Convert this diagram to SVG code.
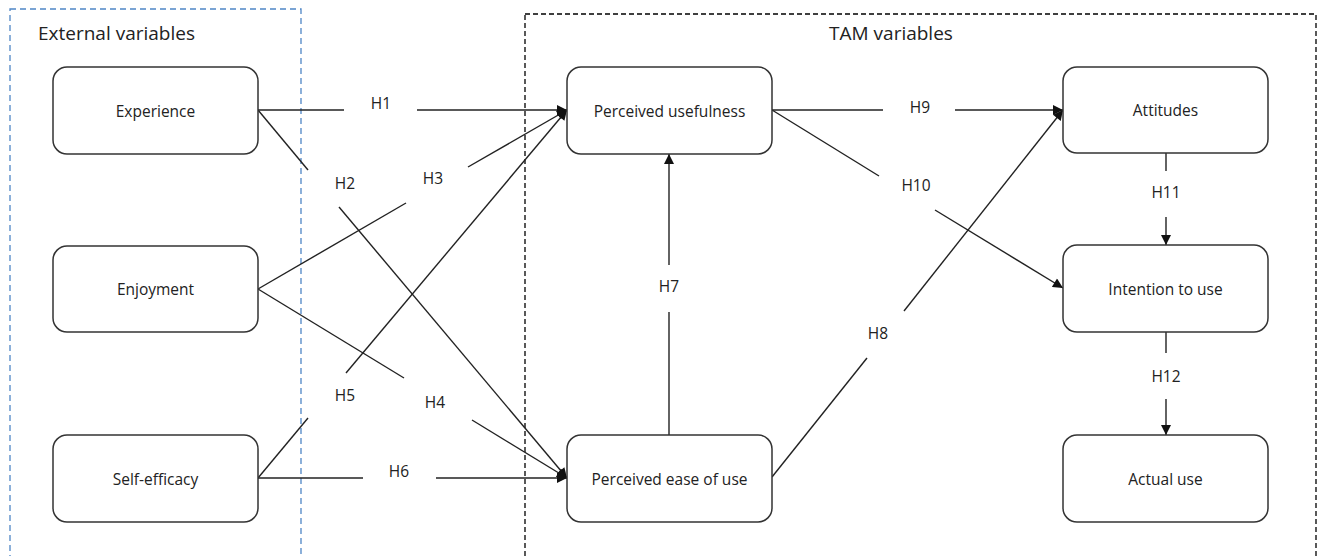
<svg xmlns="http://www.w3.org/2000/svg" width="1319" height="556" viewBox="0 0 1319 556">
  <style>
    .node rect { fill: #ffffff; stroke: #333333; stroke-width: 1.5; }
    .node text, .lbl { font-family: "Open Sans", "Liberation Sans", sans-serif; font-size: 15.5px; fill: #222222; text-anchor: middle; dominant-baseline: central; }
    .title { font-family: "Open Sans", "Liberation Sans", sans-serif; font-size: 19px; fill: #222222; }
    .edge { stroke: #222222; stroke-width: 1.4; fill: none; }
    .ext { fill: none; stroke: #4f86c6; stroke-width: 1.3; stroke-dasharray: 6 4; }
    .tam { fill: none; stroke: #000000; stroke-width: 1.3; stroke-dasharray: 5 3; }
  </style>
  <defs>
    <marker id="arrow" viewBox="0 0 10 10" refX="10" refY="5" markerWidth="11" markerHeight="10" markerUnits="userSpaceOnUse" orient="auto">
      <path d="M0,0 L10,5 L0,10 z" fill="#111111"/>
    </marker>
  </defs>
  <rect width="1319" height="556" fill="#ffffff"/>

  <!-- grouping frames -->
  <g id="frames">
    <rect class="ext" x="10" y="9" width="291" height="560"/>
    <text class="title" x="38" y="40">External variables</text>
    <rect class="tam" x="525" y="14" width="791" height="560"/>
    <text class="title" x="891" y="40" text-anchor="middle">TAM variables</text>
  </g>

  <!-- connectors, split around their labels -->
  <g id="connectors">
    <!-- H1 -->
    <line class="edge" x1="258" y1="110" x2="344" y2="110"/>
    <line class="edge" x1="417" y1="110" x2="567" y2="110" marker-end="url(#arrow)"/>
    <text class="lbl" x="381" y="103">H1</text>
    <!-- H2 -->
    <line class="edge" x1="258" y1="110" x2="308" y2="170"/>
    <line class="edge" x1="339" y1="207" x2="567" y2="478" marker-end="url(#arrow)"/>
    <text class="lbl" x="345" y="183">H2</text>
    <!-- H3 -->
    <line class="edge" x1="258" y1="289" x2="406" y2="203"/>
    <line class="edge" x1="468" y1="167" x2="567" y2="110" marker-end="url(#arrow)"/>
    <text class="lbl" x="433" y="178">H3</text>
    <!-- H4 -->
    <line class="edge" x1="258" y1="289" x2="404" y2="378"/>
    <line class="edge" x1="472" y1="420" x2="567" y2="478" marker-end="url(#arrow)"/>
    <text class="lbl" x="435" y="402">H4</text>
    <!-- H5 -->
    <line class="edge" x1="258" y1="478" x2="308" y2="418"/>
    <line class="edge" x1="346" y1="373" x2="567" y2="110" marker-end="url(#arrow)"/>
    <text class="lbl" x="345" y="395">H5</text>
    <!-- H6 -->
    <line class="edge" x1="258" y1="478" x2="363" y2="478"/>
    <line class="edge" x1="436" y1="478" x2="567" y2="478" marker-end="url(#arrow)"/>
    <text class="lbl" x="399" y="471">H6</text>
    <!-- H7 -->
    <line class="edge" x1="669" y1="435" x2="669" y2="312"/>
    <line class="edge" x1="669" y1="265" x2="669" y2="154" marker-end="url(#arrow)"/>
    <text class="lbl" x="669" y="286">H7</text>
    <!-- H8 -->
    <line class="edge" x1="772" y1="477" x2="867" y2="358"/>
    <line class="edge" x1="904" y1="311" x2="1063" y2="110" marker-end="url(#arrow)"/>
    <text class="lbl" x="878" y="333">H8</text>
    <!-- H9 -->
    <line class="edge" x1="772" y1="110" x2="883" y2="110"/>
    <line class="edge" x1="955" y1="110" x2="1063" y2="110" marker-end="url(#arrow)"/>
    <text class="lbl" x="920" y="107">H9</text>
    <!-- H10 -->
    <line class="edge" x1="772" y1="110" x2="879" y2="176"/>
    <line class="edge" x1="935" y1="210" x2="1063" y2="288" marker-end="url(#arrow)"/>
    <text class="lbl" x="916" y="185">H10</text>
    <!-- H11 -->
    <line class="edge" x1="1166" y1="153" x2="1166" y2="171"/>
    <line class="edge" x1="1166" y1="217" x2="1166" y2="245" marker-end="url(#arrow)"/>
    <text class="lbl" x="1166" y="192">H11</text>
    <!-- H12 -->
    <line class="edge" x1="1166" y1="332" x2="1166" y2="353"/>
    <line class="edge" x1="1166" y1="399" x2="1166" y2="435" marker-end="url(#arrow)"/>
    <text class="lbl" x="1166" y="376">H12</text>
  </g>

  <!-- external variables -->
  <g id="experience" class="node">
    <rect x="53" y="67" width="205" height="87" rx="14"/>
    <text x="155.5" y="110.5">Experience</text>
  </g>
  <g id="enjoyment" class="node">
    <rect x="53" y="246" width="205" height="86" rx="14"/>
    <text x="155.5" y="289">Enjoyment</text>
  </g>
  <g id="self-efficacy" class="node">
    <rect x="53" y="435" width="205" height="87" rx="14"/>
    <text x="155.5" y="478.5">Self-efficacy</text>
  </g>

  <!-- TAM variables -->
  <g id="perceived-usefulness" class="node">
    <rect x="567" y="67" width="205" height="87" rx="14"/>
    <text x="669.5" y="110.5">Perceived usefulness</text>
  </g>
  <g id="perceived-ease-of-use" class="node">
    <rect x="567" y="435" width="205" height="87" rx="14"/>
    <text x="669.5" y="478.5">Perceived ease of use</text>
  </g>
  <g id="attitudes" class="node">
    <rect x="1063" y="67" width="205" height="86" rx="14"/>
    <text x="1165.5" y="110">Attitudes</text>
  </g>
  <g id="intention-to-use" class="node">
    <rect x="1063" y="245" width="205" height="87" rx="14"/>
    <text x="1165.5" y="288.5">Intention to use</text>
  </g>
  <g id="actual-use" class="node">
    <rect x="1063" y="435" width="205" height="87" rx="14"/>
    <text x="1165.5" y="478.5">Actual use</text>
  </g>
</svg>
